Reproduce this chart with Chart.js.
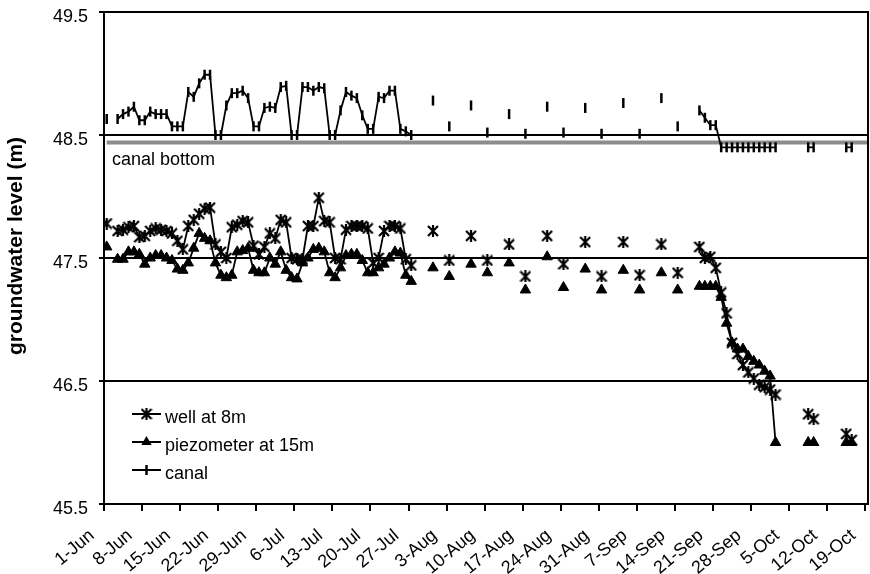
<!DOCTYPE html>
<html>
<head>
<meta charset="utf-8">
<script src="https://cdn.jsdelivr.net/npm/chart.js@4/dist/chart.umd.min.js"></script>
<style>
  html, body { margin: 0; padding: 0; background: #fff; overflow: hidden; }
  canvas { display: block; }
</style>
</head>
<body>
<canvas id="chart" width="870" height="574"></canvas>
<script>
// days counted from 1 June
const days = [
  0, 2, 3, 4, 5, 6, 7, 8, 9, 10, 11, 12, 13, 14, 15, 16, 17, 18, 19, 20, 21, 22, 23, 24, 25, 26, 27, 28,
  29, 30, 31, 32, 33, 34, 35, 36, 37, 38, 39, 40, 41, 42, 43, 44, 45, 46, 47, 48, 49, 50, 51, 52, 53, 54, 55, 56,
  60, 63, 67, 70, 74, 77, 81, 84, 88, 91, 95, 98, 102, 105,
  109, 110, 111, 112, 113, 114, 115, 116, 117, 118, 119, 120, 121, 122, 123,
  129, 130, 136, 137
];

const well8m = [
  47.78, 47.72, 47.73, 47.75, 47.76, 47.67, 47.68, 47.72, 47.74, 47.73, 47.72, 47.70, 47.64, 47.57,
  47.76, 47.81, 47.86, 47.90, 47.91, 47.61, 47.55, 47.50, 47.75, 47.77, 47.80, 47.79, 47.60, 47.53,
  47.59, 47.70, 47.66, 47.81, 47.79, 47.50, 47.49, 47.49, 47.76, 47.76, 47.99, 47.80, 47.79, 47.50,
  47.49, 47.73, 47.76, 47.76, 47.76, 47.74, 47.46, 47.50, 47.72, 47.76, 47.76, 47.74, 47.49, 47.44,
  47.72, 47.48, 47.68, 47.48, 47.61, 47.35, 47.68, 47.45, 47.63, 47.35, 47.63, 47.36, 47.61, 47.38,
  47.59, 47.50, 47.51, 47.42, 47.22, 47.05, 46.81, 46.72, 46.63, 46.57, 46.52, 46.47, 46.45, 46.43, 46.39,
  46.23, 46.19, 46.07, 46.02
];

const piezo15m = [
  47.59, 47.49, 47.49, 47.55, 47.55, 47.53, 47.45, 47.50, 47.52, 47.52, 47.50, 47.48, 47.41, 47.40,
  47.46, 47.58, 47.70, 47.66, 47.64, 47.46, 47.36, 47.34, 47.36, 47.55, 47.56, 47.58, 47.40, 47.38,
  47.38, 47.50, 47.45, 47.55, 47.40, 47.34, 47.33, 47.46, 47.50, 47.57, 47.58, 47.55, 47.38, 47.34,
  47.42, 47.52, 47.53, 47.53, 47.48, 47.38, 47.38, 47.42, 47.45, 47.50, 47.55, 47.54, 47.36, 47.31,
  47.42, 47.35, 47.45, 47.38, 47.46, 47.24, 47.51, 47.26, 47.41, 47.24, 47.40, 47.24, 47.38, 47.24,
  47.27, 47.27, 47.27, 47.27, 47.18, 46.97, 46.81, 46.76, 46.76, 46.70, 46.66, 46.63, 46.58, 46.54, 46.00,
  46.00, 46.00, 46.00, 46.00
];

const canal = [
  48.63, 48.63, 48.67, 48.69, 48.73, 48.62, 48.62, 48.69, 48.67, 48.67, 48.67, 48.57, 48.57, 48.57,
  48.85, 48.81, 48.92, 48.99, 48.99, 48.50, 48.50, 48.74, 48.84, 48.84, 48.86, 48.80, 48.57, 48.57,
  48.72, 48.73, 48.72, 48.89, 48.90, 48.50, 48.50, 48.89, 48.89, 48.86, 48.89, 48.88, 48.50, 48.50,
  48.70, 48.85, 48.82, 48.80, 48.66, 48.55, 48.55, 48.81, 48.80, 48.86, 48.86, 48.55, 48.53, 48.50,
  48.78, 48.57, 48.74, 48.52, 48.67, 48.51, 48.73, 48.52, 48.72, 48.51, 48.76, 48.51, 48.80, 48.57,
  48.70, 48.64, 48.58, 48.58, 48.40, 48.40, 48.40, 48.40, 48.40, 48.40, 48.40, 48.40, 48.40, 48.40, 48.40,
  48.40, 48.40, 48.40, 48.40
];

const canalBottom = 48.44;

const tickDays = [0, 7, 14, 21, 28, 35, 42, 49, 56, 63, 70, 77, 84, 91, 98, 105, 112, 119, 126, 133, 140];
const tickLabels = ['1-Jun', '8-Jun', '15-Jun', '22-Jun', '29-Jun', '6-Jul', '13-Jul', '20-Jul', '27-Jul',
  '3-Aug', '10-Aug', '17-Aug', '24-Aug', '31-Aug', '7-Sep', '14-Sep', '21-Sep', '28-Sep', '5-Oct', '12-Oct', '19-Oct'];
const yTicks = [45.5, 46.5, 47.5, 48.5, 49.5];

const FONT = '"Liberation Sans", Arial, sans-serif';

// asterisk marker like the spreadsheet "star"
function makeStar(size) {
  const c = document.createElement('canvas');
  c.width = c.height = size;
  const g = c.getContext('2d');
  g.strokeStyle = '#000';
  g.lineWidth = 2.2;
  g.beginPath();
  g.moveTo(1, 1); g.lineTo(size - 1, size - 1);
  g.moveTo(size - 1, 1); g.lineTo(1, size - 1);
  g.moveTo(size / 2, 0); g.lineTo(size / 2, size);
  g.stroke();
  return c;
}
const star = makeStar(12);

const pts = vals => days.map((d, i) => ({ x: d, y: vals[i] }));
// only join readings on consecutive days
const joinDaily = { borderColor: c => (c.p1.parsed.x - c.p0.parsed.x > 1.5 ? 'rgba(0,0,0,0)' : '#000') };

function drawTriangle(ctx, x, y, r) {
  ctx.beginPath();
  ctx.moveTo(x, y - r);
  ctx.lineTo(x + r * Math.sin(Math.PI / 3), y + r / 2);
  ctx.lineTo(x - r * Math.sin(Math.PI / 3), y + r / 2);
  ctx.closePath();
  ctx.fill();
}

const overlay = {
  id: 'overlay',
  afterDraw(chart) {
    const { ctx, chartArea: a } = chart;
    ctx.save();
    ctx.strokeStyle = '#000';
    ctx.lineWidth = 2;
    ctx.strokeRect(a.left, a.top, a.right - a.left, a.bottom - a.top);

    ctx.fillStyle = '#000';
    ctx.font = 'bold 21px ' + FONT;
    ctx.textAlign = 'center';
    ctx.textBaseline = 'middle';
    ctx.save();
    ctx.translate(16, 246);
    ctx.rotate(-Math.PI / 2);
    ctx.fillText('groundwater level (m)', 0, 0);
    ctx.restore();

    ctx.font = '18px ' + FONT;
    ctx.textAlign = 'left';
    ctx.fillText('canal bottom', 112, 160);

    // legend
    const rows = [
      { y: 414, text: 'well at 8m', mark: 'star' },
      { y: 442, text: 'piezometer at 15m', mark: 'tri' },
      { y: 470, text: 'canal', mark: 'bar' }
    ];
    rows.forEach(r => {
      ctx.strokeStyle = '#000';
      ctx.lineWidth = 2;
      ctx.beginPath();
      ctx.moveTo(132, r.y); ctx.lineTo(161, r.y);
      ctx.stroke();
      if (r.mark === 'star') ctx.drawImage(star, 146.5 - 6, r.y - 6);
      if (r.mark === 'tri') drawTriangle(ctx, 146.5, r.y, 6);
      if (r.mark === 'bar') {
        ctx.lineWidth = 2.5;
        ctx.beginPath();
        ctx.moveTo(146.5, r.y - 5); ctx.lineTo(146.5, r.y + 5);
        ctx.stroke();
      }
      ctx.fillText(r.text, 165, r.y + 4);
    });
    ctx.restore();
  }
};

new Chart(document.getElementById('chart'), {
  type: 'line',
  data: {
    datasets: [
      {
        label: 'well at 8m',
        data: pts(well8m),
        borderColor: '#000',
        borderWidth: 1.8,
        pointStyle: star,
        pointRadius: 6,
        segment: joinDaily,
        order: 1
      },
      {
        label: 'piezometer at 15m',
        data: pts(piezo15m),
        borderColor: '#000',
        borderWidth: 1.8,
        pointStyle: 'triangle',
        pointRadius: 6,
        pointBackgroundColor: '#000',
        pointBorderColor: '#000',
        pointBorderWidth: 1,
        segment: joinDaily,
        order: 2
      },
      {
        label: 'canal',
        data: pts(canal),
        borderColor: '#000',
        borderWidth: 1.8,
        pointStyle: 'line',
        pointRotation: 90,
        pointRadius: 5,
        pointBorderColor: '#000',
        pointBorderWidth: 2.5,
        segment: joinDaily,
        order: 3
      },
      {
        label: 'canal bottom',
        data: [{ x: 0, y: canalBottom }, { x: 140, y: canalBottom }],
        borderColor: '#8c8c8c',
        borderWidth: 4,
        pointRadius: 0,
        order: 10
      }
    ]
  },
  options: {
    responsive: false,
    animation: false,
    devicePixelRatio: 1,
    layout: { autoPadding: false, padding: { top: 12, right: 2, left: 0, bottom: 0 } },
    plugins: { legend: { display: false }, tooltip: { enabled: false } },
    scales: {
      x: {
        type: 'linear',
        min: -0.5,
        max: 140,
        afterBuildTicks: s => { s.ticks = tickDays.map(d => ({ value: d - 0.5 })); },
        afterFit: s => { s.height = 70; s.paddingLeft = 0; s.paddingRight = 0; },
        ticks: {
          color: '#000',
          font: { family: FONT, size: 18 },
          minRotation: 40,
          maxRotation: 40,
          autoSkip: false,
          padding: 14,
          labelOffset: -12,
          callback: (v, i) => tickLabels[i]
        },
        grid: { drawOnChartArea: false, color: '#000', lineWidth: 2, tickLength: 7 },
        border: { display: false }
      },
      y: {
        min: 45.5,
        max: 49.5,
        afterBuildTicks: s => { s.ticks = yTicks.map(v => ({ value: v })); },
        afterFit: s => { s.width = 104; s.paddingTop = 0; s.paddingBottom = 0; },
        ticks: {
          color: '#000',
          font: { family: FONT, size: 18 },
          padding: 11,
          labelOffset: 5,
          callback: v => Number(v).toFixed(1)
        },
        grid: { color: '#000', lineWidth: 2, tickLength: 5 },
        border: { display: false }
      }
    }
  },
  plugins: [overlay]
});
</script>
</body>
</html>
